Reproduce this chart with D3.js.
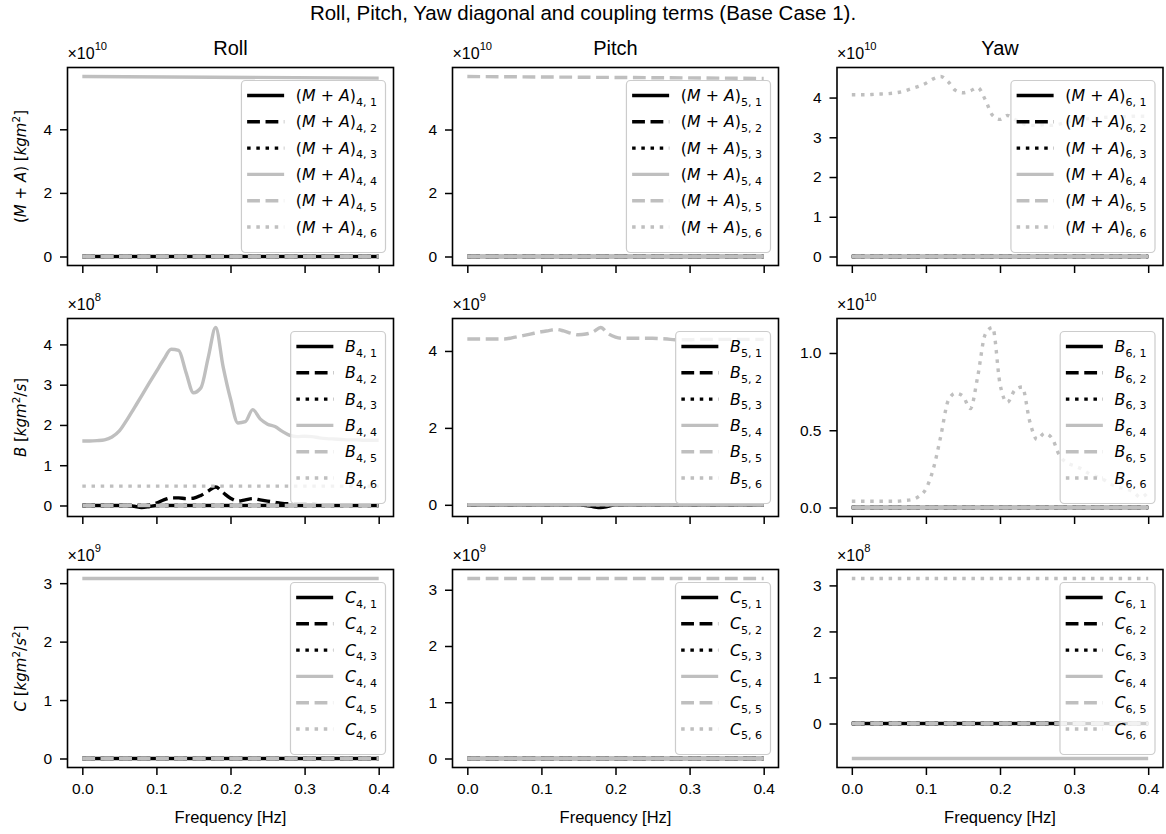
<!DOCTYPE html>
<html><head><meta charset="utf-8">
<script src="https://cdn.jsdelivr.net/npm/d3@7"></script>
<style>body{margin:0;background:#fff} svg{display:block}</style>
</head><body><svg id="c" width="1166" height="834"></svg>
<script>
// ---------- data (values in units of the panel's ×10^n offset) ----------
const FREQ = [0,0.01,0.02,0.03,0.04,0.05,0.06,0.07,0.08,0.09,0.10,0.11,0.12,0.13,0.14,0.15,0.16,0.17,0.18,0.19,0.20,
              0.21,0.22,0.23,0.24,0.25,0.26,0.27,0.28,0.29,0.30,0.31,0.32,0.33,0.34,0.35,0.36,0.37,0.38,0.39,0.40];
const FREQ_ENDS = [0, 0.4];
const X_TICKS = [0, 0.1, 0.2, 0.3, 0.4];
const COLUMNS = ["Roll", "Pitch", "Yaw"];
const SUPTITLE = "Roll, Pitch, Yaw diagonal and coupling terms (Base Case 1).";
const XLABEL = "Frequency [Hz]";

const ZERO = [0, 0];
// (M+A) row, ×1e10
const MA44 = [5.66, 5.61];
const MA55 = [5.67, 5.61];
const MA66 = [4.07,4.07,4.07,4.08,4.09,4.10,4.12,4.16,4.22,4.28,4.36,4.47,4.53,4.40,4.18,4.12,4.17,4.25,3.95,3.55,3.45,
              3.55,3.45,3.35,3.30,3.30,3.32,3.30,3.33,3.38,3.42,3.45,3.47,3.48,3.50,3.51,3.52,3.52,3.53,3.53,3.53];
// B row: roll ×1e8, pitch ×1e9, yaw ×1e10
const B41 = [0,0,0,0,0,0,0,-0.02,-0.05,-0.03,0,0,0,0,0,0,0,0,0,0,0,0,0,0,0,0,0,0,0,0,0,0,0,0,0,0,0,0,0,0,0];
const B42 = [0,0,0,0,0,0,0,0,0,0.01,0.06,0.14,0.19,0.19,0.17,0.18,0.25,0.36,0.46,0.32,0.18,
             0.11,0.14,0.17,0.14,0.11,0.08,0.05,0.04,0.03,0.03,0.03,0.02,0.02,0.02,0.02,0.02,0.02,0.02,0.02,0.02];
const B44 = [1.60,1.60,1.61,1.63,1.70,1.85,2.12,2.42,2.72,3.03,3.33,3.63,3.88,3.85,3.30,2.80,2.92,3.68,4.42,3.45,2.65,
             2.05,2.08,2.38,2.15,2.02,1.96,1.84,1.74,1.71,1.72,1.71,1.68,1.66,1.65,1.64,1.63,1.63,1.62,1.62,1.62];
const B46 = [0.48, 0.48];
const B51 = [0,0,0,0,0,0,0,0,0,0,0,0,0,0,0,0,-0.02,-0.05,-0.07,-0.04,0,0,0,0,0,0,0,0,0,0,0,0,0,0,0,0,0,0,0,0,0];
const B55 = [4.31,4.31,4.31,4.31,4.31,4.31,4.34,4.38,4.42,4.46,4.50,4.53,4.56,4.52,4.46,4.42,4.44,4.50,4.61,4.45,4.36,
             4.33,4.33,4.33,4.33,4.33,4.32,4.31,4.29,4.29,4.29,4.30,4.30,4.30,4.30,4.30,4.30,4.30,4.30,4.30,4.30];
const B66 = [0.04,0.04,0.04,0.04,0.04,0.04,0.04,0.045,0.05,0.07,0.12,0.25,0.46,0.69,0.74,0.72,0.64,0.85,1.12,1.165,0.80,
             0.68,0.76,0.78,0.56,0.44,0.48,0.45,0.34,0.29,0.27,0.25,0.22,0.20,0.18,0.15,0.13,0.12,0.10,0.065,0.10];
// C row: roll ×1e9, pitch ×1e9, yaw ×1e8
const C44 = [3.08, 3.08];
const C55 = [3.20, 3.20];
const C64 = [-0.76, -0.76];
const C66 = [3.15, 3.15];

const OFFSET_EXP = [[10,10,10],[8,9,10],[9,9,8]];
const Y_TICKS = [
  [[0,2,4],[0,2,4],[0,1,2,3,4]],
  [[0,1,2,3,4],[0,2,4],[0,0.5,1.0]],
  [[0,1,2,3],[0,1,2,3],[0,1,2,3]]
];
const Y_TICK_FMT = [["d","d","d"],["d","d",".1f"],["d","d","d"]];

const Z = [FREQ_ENDS, ZERO];
const PANELS = [
  [ [Z,Z,Z,[FREQ_ENDS,MA44],Z,Z], [Z,Z,Z,Z,[FREQ_ENDS,MA55],Z], [Z,Z,Z,Z,Z,[FREQ,MA66]] ],
  [ [[FREQ,B41],[FREQ,B42],Z,[FREQ,B44],Z,[FREQ_ENDS,B46]], [[FREQ,B51],Z,Z,Z,[FREQ,B55],Z], [Z,Z,Z,Z,Z,[FREQ,B66]] ],
  [ [Z,Z,Z,[FREQ_ENDS,C44],Z,Z], [Z,Z,Z,Z,[FREQ_ENDS,C55],Z], [Z,Z,Z,[FREQ_ENDS,C64],Z,[FREQ_ENDS,C66]] ]
];

// ---------- layout / style ----------
const LEFTS = [67.5, 452.5, 837], TOPS = [67.5, 318.5, 569.5], W = 326, H = 198;
const GRAY = "#bfbfbf";
const DASH = "12.8,5.6", DOT = "3.5,5.7";
const STYLES = [{c:"#000",d:null},{c:"#000",d:DASH},{c:"#000",d:DOT},{c:GRAY,d:null},{c:GRAY,d:DASH},{c:GRAY,d:DOT}];
const LW = 3.4;
const SANS = "'Liberation Sans', Arial, sans-serif";
const MATH = "'DejaVu Sans', sans-serif";
const TICK_FS = 15.5;

const svg = d3.select("#c");
svg.append("rect").attr("width",1166).attr("height",834).attr("fill","#fff");

svg.append("text").attr("x",583).attr("y",20).attr("text-anchor","middle")
  .attr("font-family",SANS).attr("font-size",20.5).text(SUPTITLE);

// rich text: parts {t, i (italic), sup, sub}
function rich(t, parts, fs, supShift) {
  let shift = 0;
  parts.forEach(p => {
    const target = p.sup ? -(supShift || 0.42) * fs : p.sub ? 0.3 * fs : 0;
    const ts = t.append("tspan").text(p.t).attr("font-size", (p.sup || p.sub) ? fs * 0.7 : fs);
    if (p.i) ts.attr("font-style", "italic");
    if (target !== shift) { ts.attr("dy", target - shift); shift = target; }
  });
}
function symParts(r) {
  return r === 0
    ? [{t:"("},{t:"M",i:true},{t:" + "},{t:"A",i:true},{t:")"}]
    : [{t: r === 1 ? "B" : "C", i:true}];
}

const defs = svg.append("defs");

for (let r = 0; r < 3; r++) {
  for (let c = 0; c < 3; c++) {
    const L = LEFTS[c], T = TOPS[r];
    const series = PANELS[r][c];
    const x = d3.scaleLinear().domain([-0.02, 0.42]).range([0, W]);
    const all = series.flatMap(s => s[1]);
    const [mn, mx] = d3.extent(all);
    const pad = (mx - mn) * 0.05;
    const y = d3.scaleLinear().domain([mn - pad, mx + pad]).range([H, 0]);

    const cid = `clip${r}${c}`;
    defs.append("clipPath").attr("id", cid).append("rect").attr("width", W).attr("height", H);
    const g = svg.append("g").attr("transform", `translate(${L},${T})`);

    const line = d3.line().x(d => x(d[0])).y(d => y(d[1])).curve(d3.curveMonotoneX);
    const lg = g.append("g").attr("clip-path", `url(#${cid})`);
    series.forEach((s, j) => {
      const pts = s[0].map((f, i) => [f, s[1][i]]);
      lg.append("path").attr("d", line(pts)).attr("fill","none")
        .attr("stroke", STYLES[j].c).attr("stroke-width", LW)
        .attr("stroke-dasharray", STYLES[j].d).attr("stroke-linecap","butt")
        .attr("stroke-linejoin","round");
    });

    // legend (center right)
    const fs = 15.8;
    const leg = g.append("g");
    const box = leg.append("rect");
    const texts = [];
    const rowH = 26.3, LH = 172;
    const top0 = (H - LH) / 2;
    const items = leg.append("g");
    for (let j = 0; j < 6; j++) {
      const cy = top0 + 15 + j * rowH;
      items.append("line").attr("class","h").attr("y1", cy).attr("y2", cy)
        .attr("stroke", STYLES[j].c).attr("stroke-width", LW)
        .attr("stroke-dasharray", STYLES[j].d);
      const t = items.append("text").attr("y", cy + 5.5).attr("font-family", MATH).attr("font-size", fs);
      rich(t, symParts(r).concat([{t: `${c+4}, ${j+1}`, sub:true}]), fs);
      texts.push(t);
    }
    const tw = d3.max(texts, t => t.node().getComputedTextLength());
    const LWd = 54.4 + tw + 8.5;
    const lx = W - 8 - LWd;
    box.attr("x", lx).attr("y", top0).attr("width", LWd).attr("height", LH)
      .attr("rx", 4).attr("fill", "#fff").attr("fill-opacity", 0.8)
      .attr("stroke", "#cccccc").attr("stroke-width", 1.2);
    items.selectAll("line.h").attr("x1", lx + 5.7).attr("x2", lx + 42.7);
    texts.forEach(t => t.attr("x", lx + 54.4));

    // axes
    const ya = g.append("g").call(d3.axisLeft(y).tickValues(Y_TICKS[r][c])
      .tickSize(7.5).tickPadding(8).tickFormat(d3.format(Y_TICK_FMT[r][c])));
    const xa = g.append("g").attr("transform", `translate(0,${H})`)
      .call(d3.axisBottom(x).tickValues(X_TICKS).tickSize(7.5).tickPadding(8)
        .tickFormat(r === 2 ? d3.format(".1f") : () => ""));
    [ya, xa].forEach(a => {
      a.select(".domain").remove();
      a.selectAll("line").attr("stroke","#000").attr("stroke-width",1.5);
      a.selectAll("text").attr("font-family", SANS).attr("font-size", TICK_FS).attr("fill","#000");
    });
    g.append("rect").attr("width", W).attr("height", H).attr("fill","none")
      .attr("stroke","#000").attr("stroke-width",1.6);

    // offset text
    const ot = g.append("text").attr("x", 0).attr("y", -9).attr("font-family", SANS).attr("font-size", 16);
    rich(ot, [{t:"\u00d710"},{t:String(OFFSET_EXP[r][c]), sup:true}], 16, 0.55);

    if (r === 0) {
      g.append("text").attr("x", W/2).attr("y", -12.5).attr("text-anchor","middle")
        .attr("font-family", SANS).attr("font-size", 20).text(COLUMNS[c]);
    }
    if (r === 2) {
      g.append("text").attr("x", W/2).attr("y", H + 55).attr("text-anchor","middle")
        .attr("font-family", SANS).attr("font-size", 16.5).text(XLABEL);
    }
    if (c === 0) {
      const yfs = 15;
      const yl = svg.append("text").attr("transform", `translate(${26},${T + H/2}) rotate(-90)`)
        .attr("text-anchor","middle").attr("font-family", MATH).attr("font-size", yfs);
      let parts = symParts(r).concat([{t:" ["},{t:"kgm",i:true},{t:"2",sup:true}]);
      if (r > 0) {
        parts.push({t:"/"}, {t:"s", i:true});
        if (r === 2) parts.push({t:"2", sup:true});
      }
      parts.push({t:"]"});
      rich(yl, parts, yfs);
    }
  }
}
</script></body></html>
